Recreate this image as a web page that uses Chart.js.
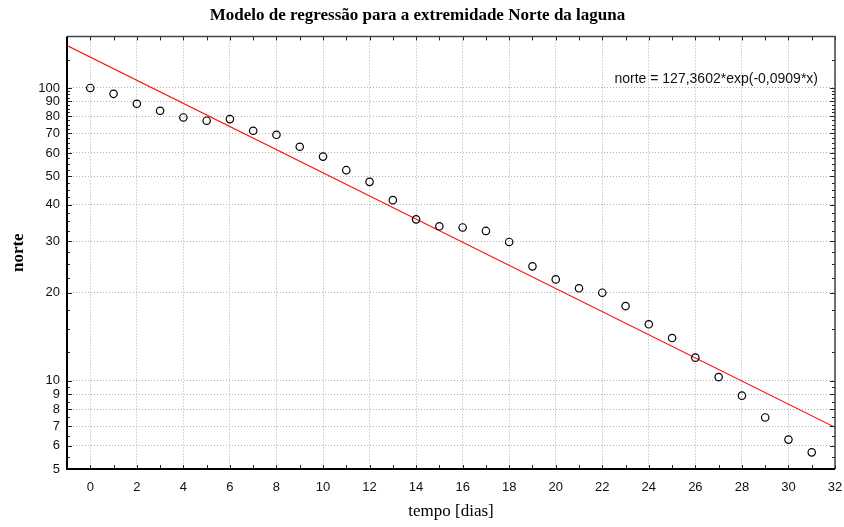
<!DOCTYPE html>
<html>
<head>
<meta charset="utf-8">
<script src="https://cdn.jsdelivr.net/npm/chart.js@4.4.1/dist/chart.umd.min.js"></script>
<style>
  html, body { margin: 0; padding: 0; background: #fff; }
  #wrap { width: 844px; height: 527px; position: relative; }
</style>
</head>
<body>
<div id="wrap"><canvas id="chart"></canvas></div>
<script>
const days = [0, 1, 2, 3, 4, 5, 6, 7, 8, 9, 10, 11, 12, 13, 14, 15,
              16, 17, 18, 19, 20, 21, 22, 23, 24, 25, 26, 27, 28, 29, 30, 31];
const norte = [100, 95.5, 88.3, 83.6, 79.3, 77.3, 78.3, 71.4, 69.2, 63.0, 58.3, 52.4, 47.8, 41.4, 35.6, 33.7,
               33.4, 32.5, 29.8, 24.6, 22.2, 20.7, 20.0, 18.0, 15.6, 14.0, 12.0, 10.3, 8.9, 7.5, 6.3, 5.7];

// fitted line end points (straight on the log axis)
const fitX = [-1, 32];
const fitY = [139.5, 6.94];

const xTicks = [0, 2, 4, 6, 8, 10, 12, 14, 16, 18, 20, 22, 24, 26, 28, 30, 32];
const yTicks = [5, 6, 7, 8, 9, 10, 20, 30, 40, 50, 60, 70, 80, 90, 100];
const fitLabel = 'norte = 127,3602*exp(-0,0909*x)';

// minor tick positions for the frame
const yMinor = [];
for (let v = 5.5; v < 10; v += 0.5) yMinor.push(v);
for (let v = 12.5; v < 100; v += 2.5) yMinor.push(v);
yMinor.push(125);
const xMinor = [];
for (let v = -1; v <= 32; v++) xMinor.push(v);

const frame = {
  id: 'frame',
  afterDraw(chart) {
    const ctx = chart.ctx;
    const { left, right, top, bottom } = chart.chartArea;
    const xs = chart.scales.x, ys = chart.scales.y;
    ctx.save();
    ctx.strokeStyle = '#222';
    ctx.lineWidth = 1;
    ctx.beginPath();
    xMinor.forEach(v => {
      const px = Math.round(xs.getPixelForValue(v)) + 0.5;
      ctx.moveTo(px, bottom); ctx.lineTo(px, bottom - 4);
      ctx.moveTo(px, top); ctx.lineTo(px, top + 4);
    });
    yMinor.forEach(v => {
      const py = Math.round(ys.getPixelForValue(v)) + 0.5;
      ctx.moveTo(left, py); ctx.lineTo(left + 3, py);
      ctx.moveTo(right, py); ctx.lineTo(right - 3, py);
    });
    yTicks.forEach(v => {
      const py = Math.round(ys.getPixelForValue(v)) + 0.5;
      ctx.moveTo(left, py); ctx.lineTo(left + 5, py);
      ctx.moveTo(right, py); ctx.lineTo(right - 5, py);
    });
    ctx.stroke();

    // box
    ctx.strokeStyle = '#444';
    ctx.lineWidth = 1.5;
    ctx.beginPath();
    ctx.moveTo(left, top); ctx.lineTo(right, top); ctx.lineTo(right, bottom);
    ctx.stroke();
    ctx.strokeStyle = '#000';
    ctx.lineWidth = 2;
    ctx.beginPath();
    ctx.moveTo(left, top); ctx.lineTo(left, bottom); ctx.lineTo(right, bottom);
    ctx.stroke();

    // equation
    ctx.fillStyle = '#111';
    ctx.font = '14px "Liberation Sans", Arial, sans-serif';
    ctx.textAlign = 'right';
    ctx.textBaseline = 'middle';
    ctx.fillText(fitLabel, right - 17, top + 43);
    ctx.restore();
  }
};

new Chart(document.getElementById('chart'), {
  type: 'scatter',
  data: {
    datasets: [
      {
        label: 'norte',
        data: days.map((d, i) => ({ x: d, y: norte[i] })),
        pointStyle: 'circle',
        pointRadius: 3.7,
        pointBorderWidth: 1.2,
        borderColor: '#000',
        backgroundColor: 'rgba(0,0,0,0)'
      },
      {
        label: 'ajuste',
        data: fitX.map((d, i) => ({ x: d, y: fitY[i] })),
        showLine: true,
        pointRadius: 0,
        borderColor: '#ff1010',
        borderWidth: 1.2,
        fill: false
      }
    ]
  },
  options: {
    responsive: true,
    maintainAspectRatio: false,
    animation: false,
    layout: { padding: { left: 0, right: 9, top: 0, bottom: 0 } },
    plugins: {
      legend: { display: false },
      tooltip: { enabled: false },
      title: {
        display: true,
        text: 'Modelo de regressão para a extremidade Norte da laguna',
        color: '#000',
        font: { family: '"Liberation Serif", "Times New Roman", serif', size: 17, weight: 'bold' },
        padding: { top: 5, bottom: 11 }
      }
    },
    scales: {
      x: {
        type: 'linear',
        min: -1,
        max: 32,
        afterBuildTicks: s => { s.ticks = xTicks.map(v => ({ value: v })); },
        afterFit: s => { s.height = 58; s.paddingRight = 0; s.paddingLeft = 0; },
        border: { display: false, dash: [1, 2] },
        grid: { color: '#b0b0b0', lineWidth: 1, drawTicks: false },
        ticks: {
          padding: 11,
          color: '#111',
          font: { family: '"Liberation Sans", Arial, sans-serif', size: 13 },
          maxRotation: 0,
          autoSkip: false
        },
        title: {
          display: true,
          text: 'tempo [dias]',
          color: '#000',
          font: { family: '"Liberation Serif", "Times New Roman", serif', size: 17 },
          padding: { top: 0, bottom: 5 }
        }
      },
      y: {
        type: 'logarithmic',
        min: 5,
        max: 150,
        afterBuildTicks: s => { s.ticks = yTicks.map(v => ({ value: v })); },
        afterFit: s => { s.width = 67; s.paddingTop = 0; s.paddingBottom = 0; },
        border: { display: false, dash: [1, 2] },
        grid: { color: '#b0b0b0', lineWidth: 1, drawTicks: false },
        ticks: {
          padding: 7,
          color: '#111',
          font: { family: '"Liberation Sans", Arial, sans-serif', size: 13 },
          autoSkip: false,
          callback: v => String(v)
        },
        title: {
          display: true,
          text: 'norte',
          color: '#000',
          font: { family: '"Liberation Serif", "Times New Roman", serif', size: 17, weight: 'bold' },
          padding: { top: 8, bottom: 0 }
        }
      }
    }
  },
  plugins: [frame]
});
</script>
</body>
</html>
